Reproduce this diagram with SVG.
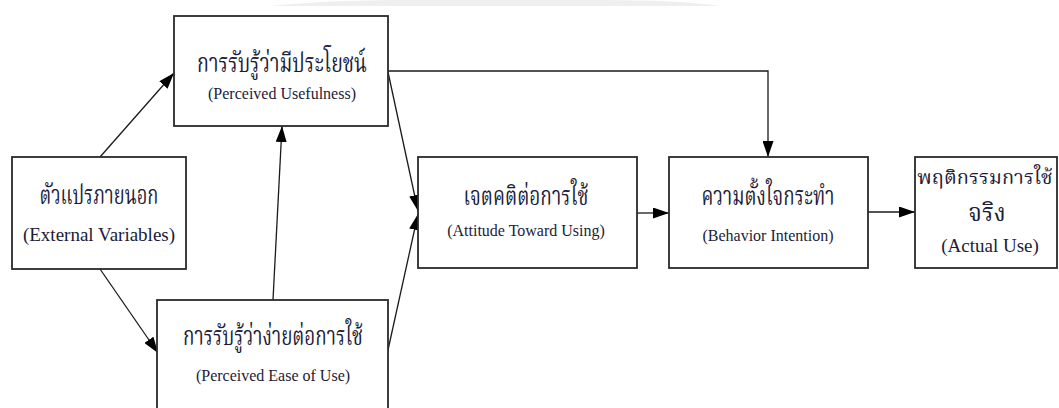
<svg xmlns="http://www.w3.org/2000/svg" width="1059" height="408" viewBox="0 0 1059 408">
<style>
.box{fill:#fff;stroke:#2a2a2a;stroke-width:1.8}
.th{font-family:"Liberation Serif","Noto Serif Thai","Noto Sans Thai",serif;fill:#1c1c38;text-anchor:middle;font-weight:normal}
.en{font-family:"Liberation Serif","Times New Roman",serif;fill:#1c1c38;text-anchor:middle}
.ln{fill:none;stroke:#1a1a1a;stroke-width:1.3}
</style>
<defs>
<marker id="ah" markerUnits="userSpaceOnUse" markerWidth="16" markerHeight="11" refX="16" refY="5.5" orient="auto">
<path d="M0,0 L16,5.5 L0,11 Z" fill="#000"/>
</marker>
</defs>
<rect width="1059" height="408" fill="#fff"/>
<path d="M268,6 Q330,0 400,0 L600,0 Q680,0 720,6 Z" fill="#efefef"/>
<g id="connectors">
<line class="ln" x1="100" y1="157" x2="174" y2="73" marker-end="url(#ah)"/>
<line class="ln" x1="100" y1="269" x2="158" y2="353" marker-end="url(#ah)"/>
<line class="ln" x1="273" y1="300" x2="282" y2="126" marker-end="url(#ah)"/>
<line class="ln" x1="388" y1="72" x2="418" y2="211" marker-end="url(#ah)"/>
<line class="ln" x1="388" y1="350" x2="418" y2="214" marker-end="url(#ah)"/>
<polyline class="ln" points="388,71 768,71 768,157" marker-end="url(#ah)"/>
<line class="ln" x1="637" y1="213" x2="669" y2="213" marker-end="url(#ah)"/>
<line class="ln" x1="868" y1="212" x2="915" y2="212" marker-end="url(#ah)"/>
</g>
<g id="pu">
<rect class="box" x="174" y="16" width="214" height="110"/>
<text class="th" x="282" y="72" font-size="26" textLength="170" lengthAdjust="spacingAndGlyphs">การรับรู้ว่ามีประโยชน์</text>
<text class="en" x="282" y="99" font-size="16">(Perceived Usefulness)</text>
</g>
<g id="ev">
<rect class="box" x="12" y="157" width="174" height="112"/>
<text class="th" x="99" y="204" font-size="26" textLength="119" lengthAdjust="spacingAndGlyphs">ตัวแปรภายนอก</text>
<text class="en" x="99" y="241" font-size="19">(External Variables)</text>
</g>
<g id="peou">
<rect class="box" x="157" y="300" width="231" height="115"/>
<text class="th" x="273" y="345" font-size="26" textLength="180" lengthAdjust="spacingAndGlyphs">การรับรู้ว่าง่ายต่อการใช้</text>
<text class="en" x="273" y="381" font-size="16">(Perceived Ease of Use)</text>
</g>
<g id="atu">
<rect class="box" x="418" y="157" width="219" height="111"/>
<text class="th" x="526" y="205" font-size="26" textLength="125" lengthAdjust="spacingAndGlyphs">เจตคติต่อการใช้</text>
<text class="en" x="526" y="236" font-size="16">(Attitude Toward Using)</text>
</g>
<g id="bi">
<rect class="box" x="669" y="157" width="199" height="111"/>
<text class="th" x="768" y="205" font-size="26" textLength="133" lengthAdjust="spacingAndGlyphs">ความตั้งใจกระทำ</text>
<text class="en" x="768" y="241" font-size="16">(Behavior Intention)</text>
</g>
<g id="au">
<rect class="box" x="915" y="157" width="142" height="111"/>
<text class="th" x="985" y="184" font-size="20">พฤติกรรมการใช้</text>
<text class="th" x="987" y="221" font-size="24">จริง</text>
<text class="en" x="990" y="252" font-size="19">(Actual Use)</text>
</g>
</svg>
